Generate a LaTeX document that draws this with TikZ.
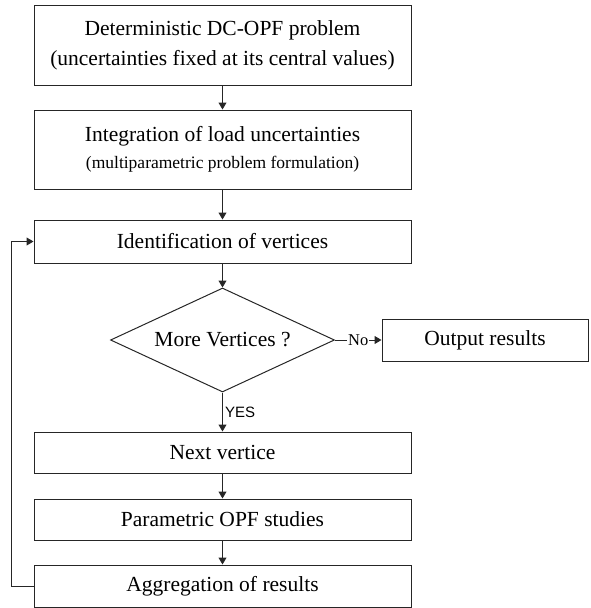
\documentclass[tikz,border=0pt]{standalone}
\usepackage{fontspec}
\setmainfont{Liberation Serif}
\newfontfamily\yesfont{Liberation Sans}
\usetikzlibrary{shapes.geometric,arrows.meta}
\tikzset{
  box/.style={draw=black!85, line width=1pt, rectangle, minimum width=377pt, inner sep=0pt, align=center, font=\fontsize{21.5}{30}\selectfont},
  dec/.style={draw=black!85, line width=1pt, diamond, minimum width=224pt, minimum height=104pt, inner sep=0pt, aspect=2.15, font=\fontsize{21.5}{25}\selectfont},
  arr/.style={draw=black!85, line width=1pt, -{Triangle[length=7pt,width=8pt]}},
  lbl/.style={font=\fontsize{16.5}{18}\selectfont, fill=white, inner sep=1pt},
}
\begin{document}
\begin{tikzpicture}[x=1pt,y=-1pt]
\useasboundingbox (0,0) rectangle (590,608);
\node[box, minimum height=80pt] (b1) at (222.5,45) {Deterministic DC-OPF problem\\(uncertainties fixed at its central values)};
\node[box, minimum height=79pt] (b2) at (222.5,149.5) {Integration of load uncertainties\\[-3pt]{\fontsize{17.5}{20}\selectfont(multiparametric problem formulation)}};
\node[box, minimum height=43pt] (b3) at (222.5,241.5) {Identification of vertices};
\node[dec] (dia) at (222.5,340) {More Vertices ?};
\node[box, minimum width=206pt, minimum height=42pt] (out) at (485,340) {Output results};
\node[box, minimum height=41pt] (nx) at (222.5,452.5) {Next vertice};
\node[box, minimum height=41pt] (par) at (222.5,519.5) {Parametric OPF studies};
\node[box, minimum height=42pt] (agg) at (222.5,586) {Aggregation of results};
\draw[arr] (b1) -- (b2);
\draw[arr] (b2) -- (b3);
\draw[arr] (b3) -- (dia);
\draw[arr] (dia.east) -- node[lbl] (no) {No} (out.west);
\draw[arr] (dia.south) -- node[anchor=west, inner sep=2pt, font=\yesfont\fontsize{15}{17}\selectfont] (yes) {YES} (nx.north);
\draw[arr] (nx) -- (par);
\draw[arr] (par) -- (agg);
\draw[arr] (agg.west) -- ++(-22,0) coordinate (fb) |- (b3.west);
\end{tikzpicture}
\end{document}
